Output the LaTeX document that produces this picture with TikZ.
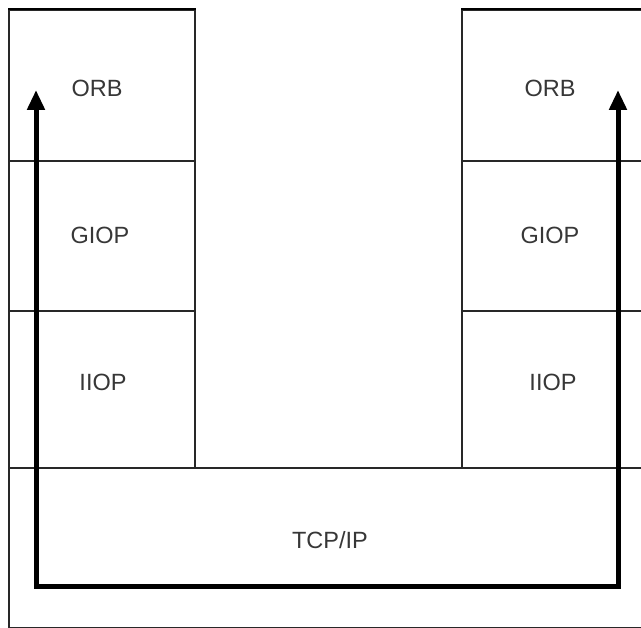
\documentclass[tikz,border=0pt]{standalone}
\usepackage{fontspec}
\setmainfont{Liberation Sans}
\definecolor{ink}{RGB}{40,40,40}
\definecolor{label}{RGB}{55,55,55}
\usepackage{tikz}
\usetikzlibrary{arrows.meta,positioning,calc}
\tikzset{
  layer/.style={draw=ink, line width=1.8pt, fill=white, minimum width=186pt,
              inner sep=0pt, anchor=north west},
  tag/.style={font=\fontsize{23.5}{27}\selectfont, text=label},
  flow/.style={{Triangle[length=20pt,width=17pt]}-{Triangle[length=20pt,width=17pt]},
              black, line width=5pt},
}
\begin{document}
\begin{tikzpicture}[x=1pt,y=-1pt]
    \useasboundingbox (0,0) rectangle (641,628);
    \begin{scope}
      \clip (0,0) rectangle (641,628);
      \node[layer, minimum width=639pt, minimum height=160pt] (tcp) at (8,467) {};
      \node[layer, minimum height=151pt] (lorb)  at (8,9)   {};
      \node[layer, minimum height=150pt] (lgiop) at (8,160) {};
      \node[layer, minimum height=157pt] (liiop) at (8,310) {};
      \node[layer, minimum height=151pt] (rorb)  at (461,9)   {};
      \node[layer, minimum height=150pt] (rgiop) at (461,160) {};
      \node[layer, minimum height=157pt] (riiop) at (461,310) {};
      \draw[black, line width=2.8pt] (lorb.north west) -- (lorb.north east);
      \draw[black, line width=2.8pt] (rorb.north west) -- (rorb.north east);
      \draw[ink!50, line width=1pt] (tcp.south west) -- (tcp.south east);
    \end{scope}
    % layer names
    \node[tag] (torbl)  at (97,88)   {ORB};
    \node[tag] (tgiopl) at (100,235) {GIOP};
    \node[tag] (tiiopl) at (103,382) {IIOP};
    \node[tag] (torbr)  at (550,88)  {ORB};
    \node[tag] (tgiopr) at (550,235) {GIOP};
    \node[tag] (tiiopr) at (553,382) {IIOP};
    \node[tag] (ttcp)   at (330,540) {TCP/IP};
    % message path down one stack and up the other
    \coordinate (src) at (36,90);
    \coordinate (dst) at (618,90);
    \coordinate (low) at (0,587);
    \draw[flow] (src) -- (src |- low) -- (dst |- low) -- (dst);
\end{tikzpicture}
\end{document}
